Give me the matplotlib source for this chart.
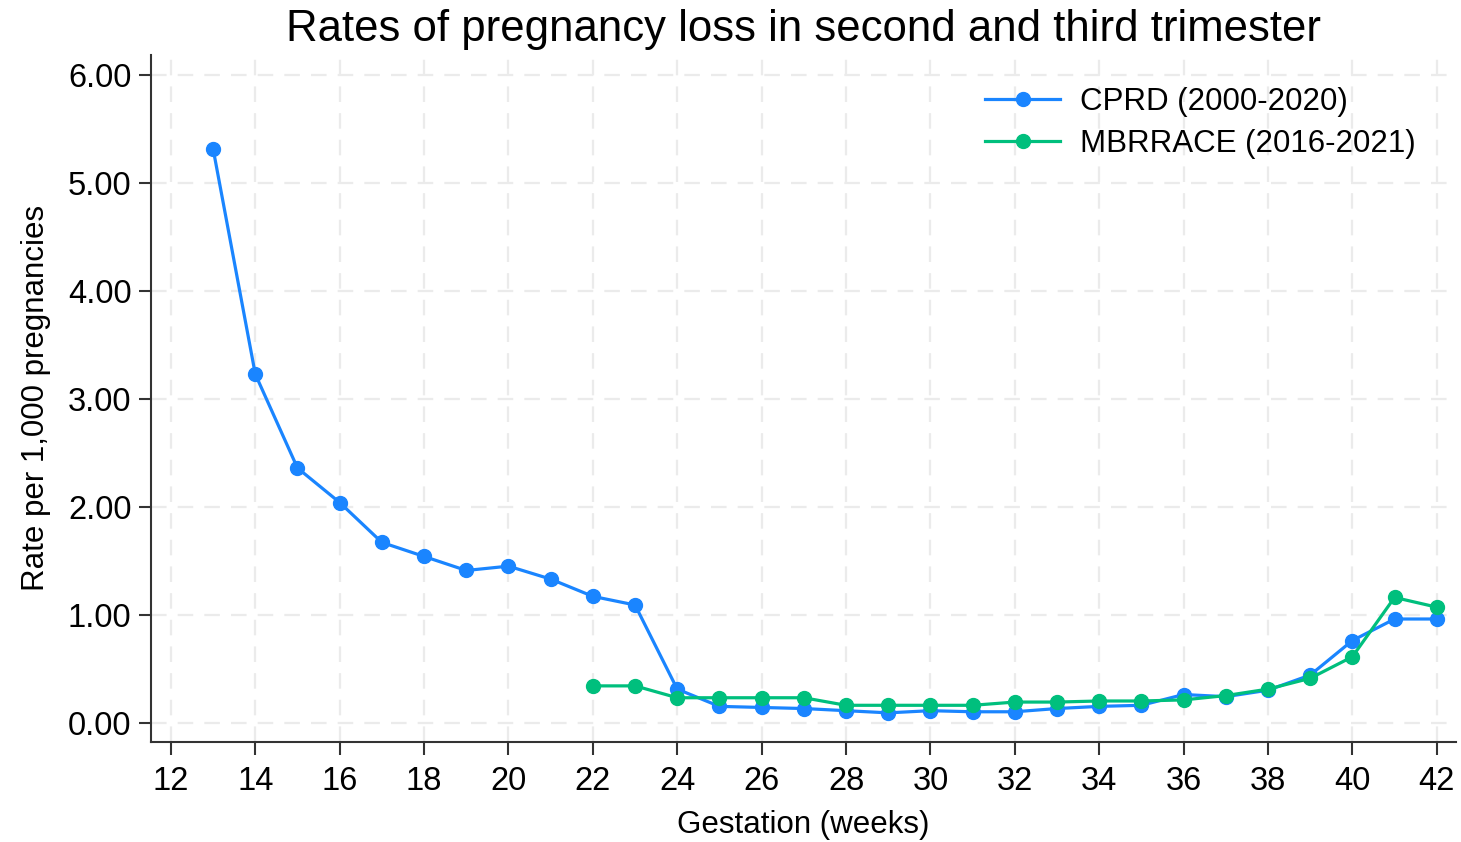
import numpy as np
import matplotlib
matplotlib.use("Agg")
from matplotlib import pyplot as plt

plt.rcParams['font.family'] = ['Liberation Sans', 'DejaVu Sans']

# CPRD (2000-2020), weeks 13-42
weeks_cprd = list(range(13, 43))
rate_cprd = [5.32, 3.23, 2.36, 2.04, 1.67, 1.54, 1.41, 1.45, 1.33, 1.17,
             1.09, 0.31, 0.15, 0.14, 0.13, 0.11, 0.09, 0.11, 0.10, 0.10,
             0.13, 0.15, 0.16, 0.26, 0.24, 0.30, 0.44, 0.76, 0.96, 0.96]

# MBRRACE (2016-2021), weeks 22-42
weeks_mbr = list(range(22, 43))
rate_mbr = [0.34, 0.34, 0.23, 0.23, 0.23, 0.23, 0.16, 0.16, 0.16, 0.16,
            0.19, 0.19, 0.20, 0.20, 0.21, 0.25, 0.31, 0.41, 0.61, 1.16, 1.07]

x_ticks = list(range(12, 43, 2))
y_ticks = [0, 1, 2, 3, 4, 5, 6]

fig = plt.figure(figsize=(14.61, 8.42), dpi=100)
ax = fig.add_axes([0.1034, 0.1188, 0.893, 0.816])

ax.plot(weeks_cprd, rate_cprd, color='#1a85ff', lw=2.3, marker='o', ms=10,
        label='CPRD (2000-2020)', zorder=3)
ax.plot(weeks_mbr, rate_mbr, color='#00bf7d', lw=2.3, marker='o', ms=10,
        label='MBRRACE (2016-2021)', zorder=4)

ax.set_xlim(11.53, 42.45)
ax.set_ylim(-0.18, 6.19)
ax.set_xticks(x_ticks)
ax.set_yticks(y_ticks)
ax.set_yticklabels([f"{v:.2f}" for v in y_ticks])

ax.grid(True, color='#ebebeb', linestyle=(0, (7, 5)), linewidth=1.6, zorder=0)
ax.set_axisbelow(True)

for s in ['top', 'right']:
    ax.spines[s].set_visible(False)
for s in ['left', 'bottom']:
    ax.spines[s].set_color('#333333')
    ax.spines[s].set_linewidth(1.5)
ax.tick_params(axis='both', labelsize=23.5, length=9, width=1.5, color='#333333', pad=5)
ax.tick_params(axis='x', pad=8)

ax.set_title('Rates of pregnancy loss in second and third trimester', fontsize=31.5, pad=10)
ax.set_xlabel('Gestation (weeks)', fontsize=22.5, labelpad=10)
ax.set_ylabel('Rate per 1,000 pregnancies', fontsize=22.5, labelpad=12)

ax.legend(loc='upper right', bbox_to_anchor=(0.984, 0.98), frameon=False, fontsize=22.5,
          handlelength=2.4, handletextpad=0.65, labelspacing=0.38, borderaxespad=0.2)

fig.savefig('out.png', dpi=100)
